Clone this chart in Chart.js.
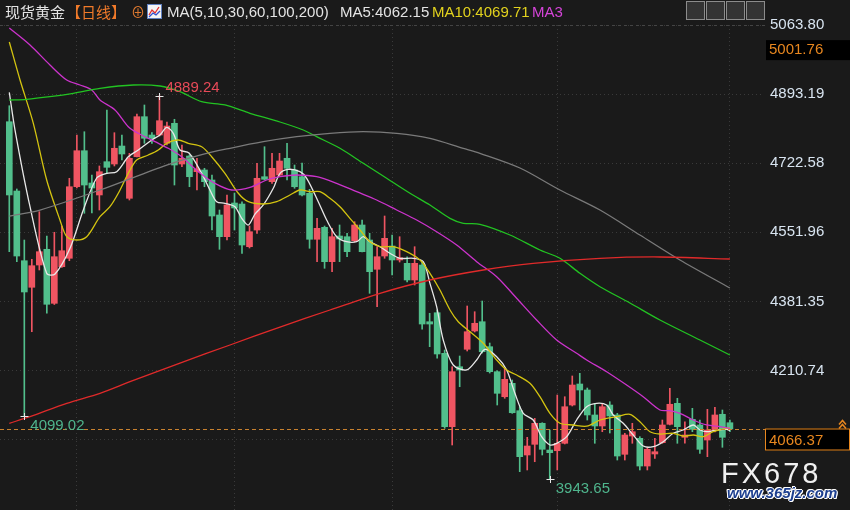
<!DOCTYPE html>
<html>
<head>
<meta charset="utf-8">
<script src="https://cdn.jsdelivr.net/npm/chart.js@4.4.1/dist/chart.umd.min.js"></script>
<style>
  html, body { margin: 0; padding: 0; background: #1a1a1a; }
  #wrap { position: relative; width: 850px; height: 510px; overflow: hidden; }
  #kline { position: absolute; left: 0; top: 0; }
  .t { position: absolute; top: 2px; font: 15px "Liberation Sans", "Noto Sans CJK SC", sans-serif; color: #e4e4e4; white-space: nowrap; line-height: 20px; }
  .cn { font-family: "Noto Sans CJK SC", sans-serif; font-size: 15px; }
  .btn { position: absolute; top: 1px; width: 17px; height: 17px; border: 1px solid #8c8c8c; background: #343434; }
  .wm1 { position: absolute; left: 721px; top: 457px; font: 29px "Liberation Sans", sans-serif; letter-spacing: 3px; color: #f0f0f0; }
  .wm2 { position: absolute; left: 727px; top: 484px; font: italic bold 15px "Liberation Sans", sans-serif; color: #1d3f8f;
         text-shadow: 1px 0 #fff, -1px 0 #fff, 0 1px #fff, 0 -1px #fff, 1px 1px #fff, -1px -1px #fff; }
</style>
</head>
<body>
<div id="wrap">
  <canvas id="kline" width="850" height="510"></canvas>

  <span class="t cn" style="left:5px">现货黄金</span>
  <span class="t cn" style="left:66px;color:#f07a2a">【日线】</span>
  <span class="t" style="left:131px;color:#e07a30;font-size:14px">⊕</span>
  <svg style="position:absolute;left:147px;top:4px" width="15" height="15">
    <rect x="0.5" y="0.5" width="14" height="14" fill="#f4f4f4" stroke="#6080c0"/>
    <polyline points="2,11 5,6 8,9 12,3" fill="none" stroke="#e03030" stroke-width="1.3"/>
    <polyline points="2,13 6,9 9,11 13,7" fill="none" stroke="#3050d0" stroke-width="1.3"/>
  </svg>
  <span class="t" style="left:167px">MA(5,10,30,60,100,200)</span>
  <span class="t" style="left:340px">MA5:4062.15</span>
  <span class="t" style="left:432px;color:#e2d21e">MA10:4069.71</span>
  <span class="t" style="left:532px;color:#d444d8">MA3</span>

  <div class="btn" style="left:686px"></div>
  <div class="btn" style="left:706px"></div>
  <div class="btn" style="left:726px"></div>
  <div class="btn" style="left:746px"></div>

  <div class="wm1">FX678</div>
  <div class="wm2">www.365jz.com</div>
</div>

<script>
// candle values (index 0 = oldest day on screen)
const opens = [
  4825.0, 4653.9, 4481.8, 4416.2, 4471.2, 4510.0, 4376.6, 4467.0, 4487.8, 4664.5,
  4753.4, 4673.7, 4644.1, 4726.3, 4720.6, 4765.0, 4635.9, 4738.6, 4837.4, 4792.2,
  4792.2, 4771.7, 4821.1, 4720.6, 4740.3, 4701.6, 4705.8, 4681.1, 4594.7, 4541.1,
  4624.3, 4621.8, 4516.4, 4557.6, 4689.2, 4676.9, 4693.4, 4734.7, 4705.8, 4689.2,
  4648.3, 4534.7, 4564.3, 4479.4, 4542.8, 4541.1, 4531.2, 4570.0, 4532.9, 4460.6,
  4493.4, 4518.1, 4483.6, 4475.4, 4434.2, 4471.2, 4331.2, 4353.4, 4253.2, 4072.0,
  4220.1, 4263.1, 4308.3, 4331.2, 4269.5, 4207.8, 4146.0, 4179.1, 4111.5, 4002.1,
  4028.5, 4080.4, 4014.4, 4012.7, 4031.0, 4125.5, 4177.4, 4162.6, 4100.9, 4073.7,
  4125.5, 4100.9, 4003.8, 4049.0, 4043.3, 3974.9, 4004.6, 4032.5, 4077.9, 4129.7,
  4045.8, 4090.2, 4076.2, 4039.1, 4062.1, 4102.6, 4081.8
];
const highs = [
  4864.5, 4658.9, 4532.9, 4485.3, 4602.8, 4542.8, 4552.0, 4567.5, 4685.3, 4792.2,
  4800.3, 4693.4, 4715.7, 4853.9, 4797.9, 4792.2, 4747.0, 4844.1, 4866.3, 4797.9,
  4889.24, 4824.3, 4831.0, 4767.5, 4742.8, 4734.7, 4710.0, 4693.4, 4607.0, 4644.1,
  4649.0, 4627.5, 4567.5, 4722.3, 4763.3, 4747.0, 4747.0, 4771.7, 4718.1, 4723.1,
  4658.1, 4586.5, 4567.5, 4561.8, 4570.0, 4549.5, 4578.1, 4582.3, 4549.5, 4516.4,
  4592.2, 4545.3, 4541.1, 4491.7, 4516.4, 4478.6, 4352.0, 4360.1, 4261.3, 4220.1,
  4246.5, 4370.0, 4355.9, 4382.3, 4278.6, 4210.2, 4216.2, 4187.3, 4121.3, 4045.8,
  4092.7, 4081.8, 4063.8, 4150.2, 4146.0, 4197.2, 4203.8, 4167.5, 4129.7, 4129.7,
  4133.7, 4105.0, 4055.7, 4080.4, 4047.3, 4021.1, 4043.3, 4088.5, 4166.8, 4142.1,
  4084.3, 4117.4, 4088.5, 4114.9, 4119.9, 4113.2, 4088.5
];
const lows = [
  4504.1, 4479.4, 4099.02, 4306.5, 4458.9, 4352.0, 4373.7, 4465.5, 4481.8, 4661.3,
  4598.9, 4599.6, 4607.0, 4697.6, 4715.7, 4730.5, 4631.7, 4737.9, 4771.7, 4771.7,
  4789.7, 4767.5, 4668.7, 4713.9, 4664.5, 4656.4, 4664.5, 4557.6, 4510.0, 4532.9,
  4557.6, 4500.1, 4513.2, 4549.5, 4681.1, 4672.9, 4691.0, 4681.1, 4660.6, 4641.6,
  4512.5, 4479.4, 4463.1, 4454.7, 4479.4, 4491.7, 4528.7, 4503.3, 4401.3, 4368.2,
  4487.8, 4446.5, 4478.6, 4429.2, 4421.8, 4312.5, 4269.5, 4240.9, 4068.0, 4026.8,
  4170.7, 4258.9, 4305.8, 4253.9, 4204.5, 4125.5, 4142.1, 4105.0, 3960.9, 3965.1,
  3985.5, 4002.1, 3943.65, 3965.1, 4029.3, 4123.1, 4113.2, 4088.5, 4031.0, 4059.6,
  4056.4, 3989.7, 3989.7, 4031.0, 3965.1, 3965.1, 3993.9, 4031.0, 4076.2, 4031.0,
  4031.0, 4059.6, 4006.3, 3997.9, 4058.9, 4021.1, 4059.6
];
const closes = [
  4644.1, 4493.4, 4404.6, 4469.5, 4504.1, 4374.2, 4491.7, 4506.5, 4664.5, 4753.4,
  4668.7, 4661.3, 4701.6, 4712.4, 4759.4, 4745.3, 4734.7, 4837.4, 4784.1, 4784.1,
  4827.5, 4814.4, 4718.1, 4734.7, 4689.2, 4708.3, 4676.9, 4592.2, 4541.1, 4619.4,
  4612.0, 4520.6, 4553.4, 4685.3, 4682.8, 4710.0, 4728.0, 4710.0, 4664.5, 4644.1,
  4534.7, 4561.8, 4479.4, 4541.1, 4535.4, 4504.1, 4570.0, 4504.1, 4454.7, 4491.7,
  4537.1, 4483.6, 4489.2, 4434.2, 4475.4, 4325.5, 4325.5, 4251.5, 4072.0, 4207.8,
  4212.0, 4306.5, 4327.3, 4257.1, 4207.8, 4154.4, 4189.0, 4106.5, 3997.9, 4024.3,
  4080.4, 4016.2, 4007.8, 4031.0, 4121.3, 4174.9, 4162.6, 4100.9, 4073.7, 4121.3,
  4098.4, 3999.6, 4051.5, 4059.6, 3974.9, 4016.2, 4010.2, 4076.2, 4127.3, 4072.0,
  4051.5, 4065.5, 4016.2, 4063.8, 4100.9, 4045.8, 4066.37
];

// moving averages: [day index, price]
const ma5 = [
  [0, 4897.6], [0.76, 4804.5], [2.76, 4615.2], [4.98, 4450.7], [6.09, 4449.0], [8.09, 4512.5],
  [9.86, 4607.0], [11.64, 4686.0], [12.97, 4697.6], [14.31, 4701.6], [15.85, 4738.6], [17.18, 4755.2],
  [18.97, 4779.9], [20.07, 4792.2], [20.97, 4811.2], [21.85, 4796.4], [22.74, 4755.2], [23.94, 4747.8],
  [25.63, 4697.6], [26.73, 4656.4], [27.63, 4627.5], [28.73, 4623.6], [30.06, 4615.2], [30.96, 4586.5],
  [31.84, 4570.0], [32.73, 4597.1], [33.84, 4619.4], [35.17, 4660.6], [36.06, 4697.6], [37.16, 4707.5],
  [38.72, 4701.6], [39.62, 4685.3], [41.16, 4627.5], [42.28, 4582.3], [43.61, 4541.1], [44.94, 4528.7],
  [46.28, 4528.7], [47.16, 4541.1], [48.05, 4528.7], [49.38, 4516.4], [50.71, 4500.1], [52.05, 4487.8],
  [53.82, 4487.8], [55.15, 4479.4], [56.04, 4426.0], [56.93, 4368.2], [57.81, 4286.0], [59.14, 4224.3],
  [60.93, 4212.0], [62.26, 4236.7], [63.37, 4263.1], [64.93, 4244.8], [66.26, 4212.0], [67.36, 4154.4],
  [68.47, 4105.0], [69.80, 4088.5], [70.92, 4047.3], [72.03, 4026.8], [72.92, 4031.0], [74.25, 4047.3],
  [75.58, 4088.5], [76.92, 4121.3], [78.25, 4129.7], [79.58, 4125.5], [80.46, 4100.9], [81.79, 4080.4],
  [83.12, 4051.5], [84.45, 4024.3], [85.79, 4022.6], [87.12, 4034.9], [88.45, 4055.7], [89.78, 4063.8],
  [91.12, 4076.2], [92.01, 4063.8], [92.90, 4059.6], [94.23, 4063.8], [95.56, 4065.5], [96, 4062.15]
];
const ma10 = [
  [0, 5021.8], [1.43, 4928.0], [3.20, 4821.1], [4.98, 4681.1], [6.75, 4582.3], [7.65, 4541.1],
  [8.98, 4532.9], [10.31, 4541.1], [12.08, 4590.5], [13.41, 4615.2], [14.52, 4648.3], [15.85, 4697.6],
  [16.97, 4730.5], [18.52, 4742.8], [19.85, 4755.2], [20.97, 4771.7], [22.51, 4779.9], [23.84, 4771.7],
  [25.63, 4763.3], [26.96, 4738.6], [28.73, 4697.6], [30.51, 4648.3], [31.84, 4627.5], [33.84, 4621.8],
  [35.62, 4627.5], [37.39, 4644.1], [38.72, 4656.4], [40.06, 4652.2], [41.39, 4652.2], [42.72, 4635.9],
  [44.05, 4615.2], [45.38, 4586.5], [46.72, 4557.6], [48.05, 4528.7], [49.38, 4516.4], [51.15, 4516.4],
  [52.94, 4504.1], [54.71, 4483.6], [56.04, 4450.7], [57.37, 4409.5], [58.71, 4360.1], [59.81, 4331.2],
  [61.37, 4306.5], [63.14, 4277.9], [64.93, 4236.7], [66.26, 4212.0], [67.59, 4199.6], [69.36, 4179.1],
  [70.69, 4146.0], [72.03, 4105.0], [73.36, 4080.4], [75.13, 4076.2], [76.92, 4073.2], [78.69, 4088.5],
  [79.58, 4092.7], [80.91, 4096.7], [82.68, 4102.6], [84.01, 4084.3], [85.35, 4059.6], [86.68, 4053.9],
  [88.45, 4055.7], [89.78, 4049.0], [91.12, 4051.5], [92.45, 4047.3], [93.78, 4059.6], [96, 4069.71]
];
const ma30 = [
  [0, 5056.4], [2.76, 5014.4], [5.42, 4965.0], [7.65, 4928.0], [9.42, 4915.7], [10.98, 4903.3],
  [12.08, 4878.6], [14.08, 4853.9], [15.85, 4812.7], [17.18, 4796.4], [19.41, 4775.7], [21.18, 4759.4],
  [22.97, 4738.6], [25.18, 4701.6], [27.40, 4672.9], [29.63, 4656.4], [32.06, 4662.6], [34.29, 4681.1],
  [36.06, 4689.2], [38.28, 4693.4], [40.95, 4689.2], [43.61, 4672.9], [46.28, 4652.2], [48.94, 4631.7],
  [51.61, 4607.0], [54.27, 4582.3], [56.93, 4553.4], [59.60, 4520.6], [62.26, 4479.4], [64.93, 4442.3],
  [67.59, 4389.0], [70.25, 4335.4], [72.92, 4286.0], [75.58, 4253.2], [76.92, 4236.7], [79.58, 4207.8],
  [82.24, 4174.9], [84.45, 4146.0], [86.68, 4113.2], [88.01, 4111.5], [89.34, 4105.0], [91.12, 4088.5],
  [92.90, 4076.2], [94.67, 4072.0], [96, 4068.0]
];
const ma60 = [
  [0, 4878.6], [2.32, 4880.4], [5.42, 4886.8], [8.53, 4895.2], [12.08, 4907.5], [16.52, 4915.7],
  [20.07, 4913.2], [22.74, 4899.1], [25.63, 4874.4], [28.73, 4866.3], [32.06, 4845.8], [36.06, 4824.3],
  [39.16, 4804.5], [40.95, 4788.0], [44.05, 4759.4], [47.16, 4722.3], [50.27, 4685.3], [53.38, 4648.3],
  [56.04, 4619.4], [58.71, 4586.5], [60.48, 4574.2], [62.70, 4571.7], [66.70, 4545.3], [70.69, 4508.3],
  [73.36, 4487.8], [76.02, 4450.7], [78.69, 4417.6], [82.68, 4377.4], [86.68, 4335.4], [92.01, 4286.0],
  [96, 4249.0]
];
const ma100 = [
  [0, 4592.2], [4.09, 4607.0], [12.08, 4656.4], [20.97, 4718.1], [25.40, 4742.8], [29.40, 4759.4],
  [33.84, 4775.7], [38.28, 4788.0], [42.72, 4796.4], [47.16, 4800.3], [51.61, 4796.4], [56.04, 4784.1],
  [60.48, 4759.4], [62.70, 4747.0], [68.03, 4710.7], [73.36, 4656.4], [78.69, 4607.0], [84.01, 4545.3],
  [89.34, 4483.6], [96, 4414.4]
];
const ma200 = [
  [0, 4080.4], [2.76, 4096.7], [7.65, 4129.7], [12.08, 4154.4], [16.08, 4183.1], [22.74, 4229.2],
  [29.40, 4273.7], [36.06, 4318.1], [42.72, 4360.1], [49.38, 4401.3], [56.04, 4434.2], [63.14, 4458.9],
  [69.80, 4475.4], [78.69, 4487.8], [86.68, 4491.0], [96, 4486.0]
];

const yTicks = [5063.80, 4893.19, 4722.58, 4551.96, 4381.35, 4210.74, 4040.13];
const monthStarts = [9, 30, 51, 73, 96];
const lastPrice = 4066.37;
const markPrice = 5001.76;
const highMark = { i: 20, v: 4889.24 };
const lowMarks = [{ i: 2, v: 4099.02 }, { i: 72, v: 3943.65 }];

const UP = '#ef5562';
const DOWN = '#52bf8c';
const ORANGE = '#e8871f';
const FONT = '"Liberation Sans", "Noto Sans CJK SC", sans-serif';

const days = opens.map((_, i) => i);
const colors = days.map(i => closes[i] >= opens[i] ? UP : DOWN);
const toPts = arr => arr.map(([x, y]) => ({ x, y }));

function maLine(data, color) {
    return {
        type: 'line',
        data: toPts(data),
        borderColor: color,
        borderWidth: 1.3,
        pointRadius: 0,
        tension: 0.3,
        order: 0
    };
}

// background + overlays drawn on top of the datasets
const overlay = {
    id: 'overlay',
    beforeDraw(chart) {
        const c = chart.ctx;
        c.save();
        c.fillStyle = '#1a1a1a';
        c.fillRect(0, 0, chart.width, chart.height);
        c.restore();
    },
    afterDraw(chart) {
        const c = chart.ctx;
        const x = chart.scales.x, y = chart.scales.y;
        const area = chart.chartArea;
        c.save();

        // top separator
        c.strokeStyle = '#444';
        c.lineWidth = 1;
        c.setLineDash([3, 3]);
        c.beginPath();
        c.moveTo(0, Math.round(y.getPixelForValue(yTicks[0])) + 0.5);
        c.lineTo(766, Math.round(y.getPixelForValue(yTicks[0])) + 0.5);
        c.stroke();

        // last price line
        const py = Math.round(y.getPixelForValue(lastPrice)) + 0.5;
        c.strokeStyle = '#c8812f';
        c.setLineDash([4, 3]);
        c.beginPath();
        c.moveTo(area.left, py);
        c.lineTo(area.right + 4, py);
        c.stroke();
        c.setLineDash([]);

        c.font = '15px ' + FONT;
        c.textBaseline = 'middle';
        c.textAlign = 'left';

        // price boxes on the axis
        c.fillStyle = '#000';
        c.fillRect(765, py - 1, 85, 22);
        c.strokeStyle = ORANGE;
        c.strokeRect(765.5, py - 0.5, 84, 21);
        c.fillStyle = ORANGE;
        c.fillText(lastPrice.toFixed(2), 769, py + 11);
        // small double caret
        c.strokeStyle = ORANGE;
        c.lineWidth = 1.5;
        c.beginPath();
        c.moveTo(839, py - 5); c.lineTo(842.5, py - 9); c.lineTo(846, py - 5);
        c.moveTo(839, py - 1); c.lineTo(842.5, py - 5); c.lineTo(846, py - 1);
        c.stroke();
        c.lineWidth = 1;

        const my = y.getPixelForValue(markPrice);
        c.fillStyle = '#000';
        c.fillRect(766, my - 10, 84, 20);
        c.fillStyle = ORANGE;
        c.fillText(markPrice.toFixed(2), 769, my);

        // extreme markers
        const cross = (px, qy) => {
            c.strokeStyle = '#e6e6e6';
            c.beginPath();
            c.moveTo(Math.round(px) - 3.5, Math.round(qy) + 0.5);
            c.lineTo(Math.round(px) + 4.5, Math.round(qy) + 0.5);
            c.moveTo(Math.round(px) + 0.5, Math.round(qy) - 3);
            c.lineTo(Math.round(px) + 0.5, Math.round(qy) + 4);
            c.stroke();
        };
        let hx = x.getPixelForValue(highMark.i), hy = y.getPixelForValue(highMark.v);
        cross(hx, hy);
        c.fillStyle = '#e84a58';
        c.fillText(highMark.v.toFixed(2), hx + 6, hy - 8);
        lowMarks.forEach(m => {
            const lx = x.getPixelForValue(m.i), ly = y.getPixelForValue(m.v);
            cross(lx, ly);
            c.fillStyle = '#4fb58d';
            c.fillText(m.v.toFixed(2), lx + 6, ly + 10);
        });

        // toolbar glyphs
        c.strokeStyle = '#d8d8d8';
        c.lineWidth = 1.5;
        const bx = [686, 706, 726, 746];
        c.beginPath();
        c.moveTo(bx[0] + 4, 10); c.lineTo(bx[0] + 8, 10); c.moveTo(bx[0] + 11, 10); c.lineTo(bx[0] + 15, 10);
        c.moveTo(bx[0] + 9.5, 4); c.lineTo(bx[0] + 9.5, 8); c.moveTo(bx[0] + 9.5, 12); c.lineTo(bx[0] + 9.5, 16);
        c.moveTo(bx[1] + 5, 4); c.lineTo(bx[1] + 5, 15); c.lineTo(bx[1] + 15, 15);
        c.moveTo(bx[1] + 9, 6); c.lineTo(bx[1] + 9, 12); c.moveTo(bx[1] + 10, 9); c.lineTo(bx[1] + 13, 9);
        c.moveTo(bx[2] + 5, 4); c.lineTo(bx[2] + 5, 15); c.lineTo(bx[2] + 15, 15);
        c.moveTo(bx[2] + 8, 6); c.lineTo(bx[2] + 13, 9); c.lineTo(bx[2] + 8, 12); c.closePath();
        c.moveTo(bx[3] + 5, 4); c.lineTo(bx[3] + 5, 16);
        c.moveTo(bx[3] + 8, 7); c.lineTo(bx[3] + 11, 7); c.lineTo(bx[3] + 11, 5); c.lineTo(bx[3] + 15, 10);
        c.lineTo(bx[3] + 11, 15); c.lineTo(bx[3] + 11, 13); c.lineTo(bx[3] + 8, 13); c.closePath();
        c.stroke();

        c.restore();
    }
};

Chart.defaults.font.family = FONT;

const chart = new Chart(document.getElementById('kline').getContext('2d'), {
    data: {
        datasets: [
            maLine(ma200, '#e02a2a'),
            maLine(ma100, '#7a7a7a'),
            maLine(ma60, '#22c322'),
            maLine(ma30, '#cc33cc'),
            maLine(ma10, '#d4c410'),
            maLine(ma5, '#e8e8e8'),
            {
                // body
                type: 'bar',
                data: days.map(i => ({ x: i, y: [opens[i], closes[i]] })),
                backgroundColor: colors,
                barThickness: 6,
                minBarLength: 1,
                grouped: false,
                order: 1
            },
            {
                // shadow (high-low)
                type: 'bar',
                data: days.map(i => ({ x: i, y: [lows[i], highs[i]] })),
                backgroundColor: colors,
                barThickness: 1,
                minBarLength: 1,
                grouped: false,
                order: 2
            }
        ]
    },
    options: {
        responsive: false,
        animation: false,
        devicePixelRatio: 1,
        layout: { padding: { top: 25, left: 0, right: 0, bottom: 0 } },
        plugins: {
            legend: { display: false },
            tooltip: { enabled: false }
        },
        scales: {
            x: {
                type: 'linear',
                offset: false,
                min: -1.239,
                max: 100.276,
                ticks: { display: false },
                grid: { color: '#3a3a3a', drawTicks: false, offset: false },
                border: { display: false, dash: [1, 3] },
                afterBuildTicks: s => { s.ticks = monthStarts.map(v => ({ value: v })); },
                afterFit: s => { s.height = 0; s.paddingLeft = 0; s.paddingRight = 0; }
            },
            y: {
                type: 'linear',
                position: 'right',
                min: 3866.3,
                max: 5063.80,
                ticks: {
                    color: '#d8e4f0',
                    padding: 8,
                    font: { size: 15 },
                    callback: v => v.toFixed(2)
                },
                grid: { color: '#3a3a3a', drawTicks: false },
                border: { display: false, dash: [1, 3] },
                afterBuildTicks: s => { s.ticks = yTicks.map(v => ({ value: v })); },
                afterFit: s => { s.width = 88; s.paddingTop = 0; s.paddingBottom = 0; }
            }
        }
    },
    plugins: [overlay]
});
</script>
</body>
</html>
